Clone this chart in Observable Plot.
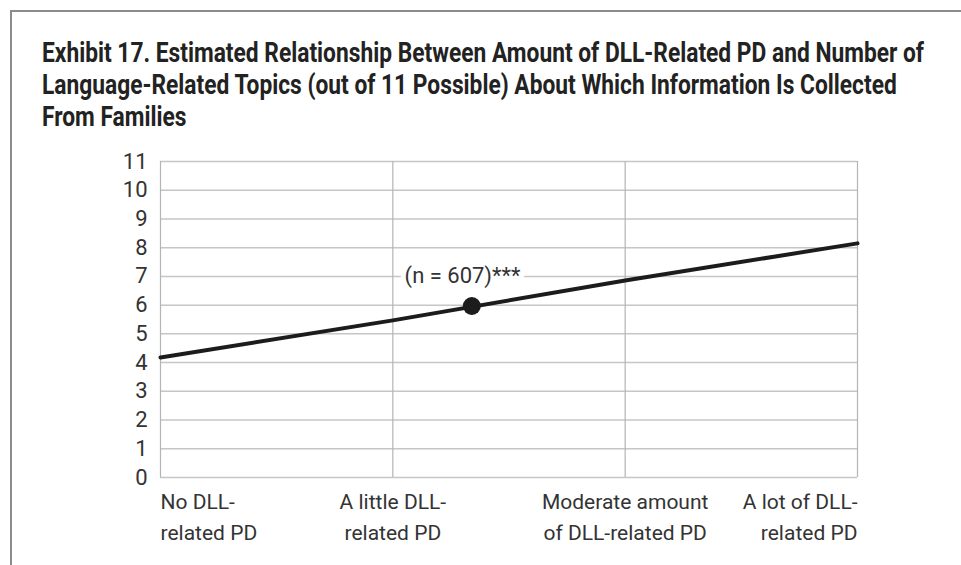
<!DOCTYPE html>
<html>
<head>
<meta charset="utf-8">
<script src="https://cdn.jsdelivr.net/npm/d3@7"></script>
<script src="https://cdn.jsdelivr.net/npm/@observablehq/plot@0.6"></script>
<style>
  html, body { margin: 0; padding: 0; background: #fff; width: 961px; height: 565px; overflow: hidden; }
  #frame { position: absolute; left: 10px; top: 10px; width: 960px; height: 560px;
           border-top: 2px solid #8c8c8c; border-left: 2px solid #8c8c8c; }
  #title { position: absolute; left: 42px; top: 37px; width: 910px;
           font-family: "Roboto", "Liberation Sans", sans-serif; font-weight: bold;
           font-size: 28px; line-height: 32px; color: #222; }
  #title .ln { display: block; white-space: nowrap; width: max-content; transform-origin: 0 50%; }
  #chart { position: absolute; left: 0; top: 140px; }
</style>
</head>
<body>
<div id="frame"></div>
<div id="title"></div>
<div id="chart"></div>
<script>
// Title lines
const titleLines = [
  "Exhibit 17. Estimated Relationship Between Amount of DLL-Related PD and Number of",
  "Language-Related Topics (out of 11 Possible) About Which Information Is Collected",
  "From Families"
];
// Categories on the x axis (index 0..3)
const categories = ["No DLL-\nrelated PD", "A little DLL-\nrelated PD", "Moderate amount\nof DLL-related PD", "A lot of DLL-\nrelated PD"];
const categoryIndex = [0, 1, 2, 3];
// Estimated number of topics at each category
const estimates = [4.18, 5.47, 6.86, 8.15];
// Mean point
const meanX = [1.34];
const meanY = [5.97];
// Annotation
const labelText = ["(n = 607)***"];
const labelX = [1.30];
const labelY = [7];
// Y ticks
const yTicks = [0,1,2,3,4,5,6,7,8,9,10,11];

// Title (condensed to match the reference's narrow typeface)
const titleEl = document.getElementById("title");
const lineEls = titleLines.map(t => {
  const s = document.createElement("span");
  s.className = "ln";
  s.textContent = t;
  titleEl.appendChild(s);
  return s;
});
const w0 = lineEls[0].getBoundingClientRect().width;
const k = 882 / w0;
lineEls.forEach(s => s.style.transform = `scaleX(${k})`);

const lineData = categoryIndex.map((x, i) => ({x, y: estimates[i]}));
const labelData = categoryIndex.map((x, i) => ({x, label: categories[i]}));
const meanData = meanX.map((x, i) => ({x, y: meanY[i]}));
const annData = labelText.map((t, i) => ({x: labelX[i], y: labelY[i], t}));

const font = "'Roboto', 'Liberation Sans', sans-serif";
const labelOpts = {x: "x", text: "label", frameAnchor: "bottom", lineAnchor: "top", dy: 10, fontSize: 21, lineHeight: 1.45, fill: "#333"};

const chart = Plot.plot({
  width: 961,
  height: 420,
  marginLeft: 160,
  marginRight: 104,
  marginTop: 21,
  marginBottom: 83,
  style: {fontFamily: font, background: "transparent", overflow: "visible"},
  x: {domain: [0, 3], axis: null},
  y: {domain: [0, 11], axis: null},
  marks: [
    Plot.ruleY(yTicks, {stroke: "#c6c6c6", strokeWidth: 1.5}),
    Plot.ruleX(categoryIndex, {stroke: "#b4b4b4", strokeWidth: 1.2}),
    Plot.axisY({ticks: yTicks, tickSize: 0, tickPadding: 13, fontSize: 22, fill: "#333", label: null}),
    Plot.line(lineData, {x: "x", y: "y", stroke: "#1c1c1c", strokeWidth: 4}),
    Plot.text(annData, {x: "x", y: "y", text: "t", fontSize: 22, fill: "#333", stroke: "white", strokeWidth: 10, paintOrder: "stroke"}),
    Plot.dot(meanData, {x: "x", y: "y", r: 9, fill: "#1c1c1c"}),
    Plot.text(labelData.filter(d => d.x === 0), {...labelOpts, textAnchor: "start"}),
    Plot.text(labelData.filter(d => d.x === 1 || d.x === 2), {...labelOpts, textAnchor: "middle"}),
    Plot.text(labelData.filter(d => d.x === 3), {...labelOpts, textAnchor: "end"})
  ]
});
document.getElementById("chart").appendChild(chart);
</script>
</body>
</html>
